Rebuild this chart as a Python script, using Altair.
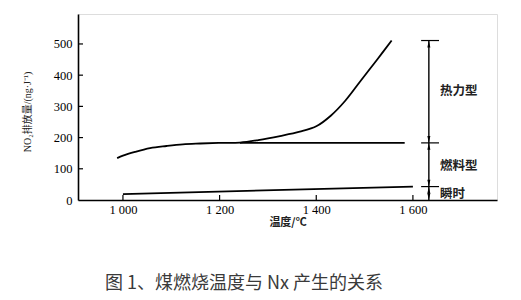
import altair as alt
import pandas as pd

# ---- data ----
total_T = [988, 1000, 1025, 1056, 1090, 1124, 1160, 1200, 1242, 1280, 1325, 1366, 1401, 1430, 1460, 1490, 1525, 1556]
total_V = [134, 142, 154, 166, 173, 178.5, 181, 183, 184, 192, 205, 219, 237, 270, 318, 378, 448, 511]

fuel_T = [1242, 1583]
fuel_V = [183, 183]

prompt_T = [1000, 1600]
prompt_V = [19, 43]

x_ticks = [1000, 1200, 1400, 1600]
y_ticks = [0, 100, 200, 300, 400, 500]

# right-hand bracket
bracket_T = 1633
bracket_tick_from = 1617
bracket_tick_to = 1654
bracket_levels = [511, 183, 43, 0]
zone_labels = ["热力型", "燃料型", "瞬时"]
zone_label_V = [348, 110, 19]
zone_label_T = 1656

caption = "图 1、煤燃烧温度与 Nx 产生的关系"
y_title = "NO₂排放量/(ng·J⁻¹)"
x_title = "温度/℃"

X_DOMAIN = [907, 1774]
Y_DOMAIN = [0, 596]
W, H = 419, 186

xs = alt.Scale(domain=X_DOMAIN, nice=False, zero=False)
ys = alt.Scale(domain=Y_DOMAIN, nice=False)

SERIF = "Liberation Serif"
CJK = "Noto Sans CJK SC"

AX_X = alt.Axis(values=x_ticks, title=x_title,
                labelExpr="substring(toString(datum.value),0,1) + ' ' + substring(toString(datum.value),1)")
AX_Y = alt.Axis(values=y_ticks, title=None)

XS = dict(scale=xs, axis=AX_X)
YS = dict(scale=ys, axis=AX_Y)

lines_df = pd.concat([
    pd.DataFrame({"T": total_T, "V": total_V, "s": "total"}),
    pd.DataFrame({"T": fuel_T, "V": fuel_V, "s": "fuel"}),
    pd.DataFrame({"T": prompt_T, "V": prompt_V, "s": "prompt"}),
])

lines = alt.Chart(lines_df).mark_line(color="black", strokeWidth=1.8, interpolate="catmull-rom").encode(
    x=alt.X("T:Q", **XS), y=alt.Y("V:Q", **YS), detail="s:N")

# inward ticks
xtick_rules = alt.Chart(pd.DataFrame({"T": x_ticks})).mark_rule(color="black", strokeWidth=1.2).encode(
    x=alt.X("T:Q", **XS), y=alt.value(H), y2=alt.value(H - 5))
ytick_rules = alt.Chart(pd.DataFrame({"V": y_ticks[1:]})).mark_rule(color="black", strokeWidth=1.2).encode(
    y=alt.Y("V:Q", **YS), x=alt.value(0), x2=alt.value(5))

# bracket
vert = alt.Chart(pd.DataFrame({"T": [bracket_T], "a": [bracket_levels[0]], "b": [bracket_levels[-1]]})).mark_rule(
    color="black", strokeWidth=1.4).encode(
    x=alt.X("T:Q", **XS), y=alt.Y("a:Q", **YS), y2="b:Q")
hticks = alt.Chart(pd.DataFrame({"a": [bracket_tick_from] * 3, "b": [bracket_tick_to] * 3,
                                 "V": bracket_levels[:3]})).mark_rule(color="black", strokeWidth=1.2).encode(
    x=alt.X("a:Q", **XS), x2="b:Q", y=alt.Y("V:Q", **YS))

UP = "M0,-1L-0.45,1L0.45,1Z"
DOWN = "M0,1L-0.45,-1L0.45,-1Z"
up_levels = [511, 183, 43]
down_levels = [183, 43, 0]
arrows_up = alt.Chart(pd.DataFrame({"T": [bracket_T] * 3, "V": up_levels})).mark_point(
    shape=UP, filled=True, color="black", size=45, yOffset=3.5, opacity=1).encode(
    x=alt.X("T:Q", **XS), y=alt.Y("V:Q", **YS))
arrows_down = alt.Chart(pd.DataFrame({"T": [bracket_T] * 3, "V": down_levels})).mark_point(
    shape=DOWN, filled=True, color="black", size=45, yOffset=-3.5, opacity=1).encode(
    x=alt.X("T:Q", **XS), y=alt.Y("V:Q", **YS))

zone_text = alt.Chart(pd.DataFrame({"T": [zone_label_T] * 3, "V": zone_label_V, "t": zone_labels})).mark_text(
    align="left", baseline="middle", font=CJK, fontSize=12.5, fontWeight="bold", color="#222").encode(
    x=alt.X("T:Q", **XS), y=alt.Y("V:Q", **YS), text="t:N")

one = alt.Data(values=[{"a": 1}])
ytitle = alt.Chart(one).mark_text(angle=270, align="center", baseline="middle",
                                  font="Liberation Serif, Noto Sans CJK SC",
                                  fontSize=10, color="#222").encode(
    x=alt.value(-50), y=alt.value(98), text=alt.value(y_title))
cap = alt.Chart(one).mark_text(align="left", baseline="middle", font=CJK, fontSize=18, color="#3a3a3a").encode(
    x=alt.value(27), y=alt.value(270), text=alt.value(caption))

chart = alt.layer(lines, xtick_rules, ytick_rules, vert, hticks, arrows_up, arrows_down,
                  zone_text, ytitle, cap).properties(
    width=W, height=H,
    autosize=alt.AutoSizeParams(type="none"),
    padding={"left": 78, "top": 14, "right": 24, "bottom": 100},
).configure_view(stroke="#999", strokeWidth=1).configure(background="white").configure_axis(
    ticks=False, grid=False, labelOverlap=False, labelFont=SERIF, labelFontSize=12.5,
    labelColor="black", domainColor="black", domainWidth=1.6,
).configure_axisX(
    labelPadding=3, titleFont=CJK, titleFontSize=11, titleFontWeight="bold", titleColor="#222", titlePadding=1,
).configure_axisY(labelPadding=6)

chart.save("out.html", embed_options={"renderer": "svg", "actions": False})
